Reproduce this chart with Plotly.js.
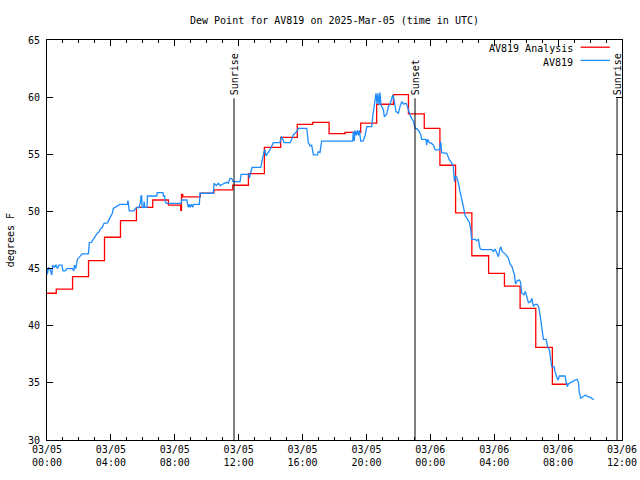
<!DOCTYPE html>
<html>
<head>
<meta charset="utf-8">
<script src="https://cdn.plot.ly/plotly-3.0.1.min.js"></script>
<style>html,body{margin:0;padding:0;background:#fff;}#chart{width:640px;height:480px;}</style>
</head>
<body>
<div id="chart"></div>
<script>
// Hours since 2025-03-05 00:00 UTC
const analysisHours = [0, 0.58, 1.6, 2.6, 3.6, 4.6, 5.6, 6.62, 7.6, 8.37, 8.42, 8.5, 9.6, 10.45, 11.63, 12.61, 13.61, 14.63, 15.67, 16.63, 17.66, 18.66, 19.64, 20.64, 21.69, 22.63, 23.62, 24.6, 25.58, 26.6, 27.65, 28.64, 29.62, 30.6, 31.64, 32.64];
const analysisDewpt = [42.84, 43.2, 44.3, 45.7, 47.74, 49.2, 50.35, 51.0, 50.56, 50.1, 51.5, 51.27, 51.6, 51.88, 52.29, 53.3, 55.6, 56.48, 57.62, 57.8, 56.8, 56.92, 57.73, 59.38, 60.22, 58.53, 57.27, 54.04, 49.88, 46.12, 44.58, 43.47, 41.51, 38.1, 34.88, 34.88];

const obsHours = [0.00,0.02,0.10,0.20,0.30,0.35,0.45,0.56,0.65,0.75,0.94,1.00,1.15,1.25,1.59,1.68,1.72,1.80,1.90,2.00,2.20,2.59,2.65,2.78,2.90,3.03,3.15,3.25,3.36,3.46,3.57,3.78,3.88,4.09,4.15,4.44,4.57,5.03,5.07,5.15,5.45,5.50,5.62,5.76,5.86,5.88,5.93,5.95,6.05,6.08,6.12,6.26,6.29,6.87,6.90,7.26,7.29,7.37,7.40,7.47,8.40,8.43,8.76,8.79,8.85,8.90,8.97,9.05,9.12,9.18,9.54,9.58,10.41,10.46,10.60,10.72,10.85,11.10,11.25,11.35,11.46,11.56,11.65,12.09,12.15,12.64,12.67,12.74,12.84,13.38,13.44,13.50,13.59,13.65,13.71,13.83,13.96,14.17,14.59,14.63,14.70,14.84,15.22,15.32,15.42,15.53,15.63,15.74,16.26,16.30,16.36,16.47,16.57,16.68,16.93,16.98,17.09,17.20,19.14,19.18,19.24,19.28,19.36,19.44,19.50,19.56,19.64,19.78,19.91,20.02,20.33,20.39,20.48,20.54,20.60,20.66,20.72,20.79,20.85,20.91,21.06,21.12,21.27,21.37,21.48,21.65,21.73,21.85,22.00,22.10,22.21,22.33,22.50,22.56,22.68,22.77,22.94,23.04,23.18,23.31,23.40,23.46,23.73,23.77,23.83,23.94,24.08,24.19,24.30,24.57,24.65,24.71,25.03,25.08,25.19,25.33,25.44,25.51,25.57,25.65,25.76,25.86,25.97,26.07,26.17,26.28,26.45,26.53,26.59,26.80,26.90,27.01,27.11,27.20,27.84,27.95,28.05,28.15,28.26,28.37,28.42,28.50,28.60,28.75,28.89,28.99,29.10,29.20,29.27,29.33,29.45,29.57,29.65,29.72,29.86,29.95,30.03,30.14,30.28,30.36,30.45,30.56,30.70,30.79,30.87,30.98,31.08,31.25,31.33,31.45,31.54,31.60,31.75,31.80,31.92,32.00,32.08,32.44,32.50,32.58,32.64,32.80,32.95,33.06,33.20,33.27,33.33,33.42,33.55,33.71,33.85,34.00,34.17,34.25];
const obsDewpt = [45.03,44.5,45.1,44.9,44.44,45.3,45.1,45.3,45.0,45.3,45.3,44.8,44.8,45.0,45.0,44.8,45.3,45.0,45.8,45.99,46.28,46.28,47.27,47.3,47.56,47.85,48.09,48.2,48.52,48.6,48.96,49.0,49.31,49.83,50.27,50.47,50.62,50.62,50.94,50.04,50.04,50.2,50.33,50.33,50.85,51.35,51.35,50.36,50.36,50.86,50.36,50.36,51.35,51.35,51.64,51.64,51.35,51.35,50.86,50.71,50.71,51.0,51.0,50.71,50.36,50.62,50.36,50.62,50.36,50.62,50.62,51.59,51.59,52.46,52.26,52.46,52.26,52.46,52.55,52.46,52.9,52.9,52.6,52.6,53.25,53.25,52.9,53.34,53.86,53.86,54.37,54.65,55.23,55.4,54.85,55.1,55.4,56.02,56.02,56.32,56.55,56.02,56.02,56.3,56.69,56.84,56.98,57.27,57.27,56.84,56.02,55.73,55.8,54.94,54.94,55.23,55.15,56.16,56.16,56.98,56.16,57.1,56.66,57.1,56.66,57.1,56.16,56.16,56.6,57.42,57.42,58.29,59.17,59.9,60.34,59.4,60.34,59.3,60.4,59.31,58.9,58.29,58.5,59.17,59.4,60.19,59.75,58.73,58.6,59.17,59.6,59.4,59.45,59.17,58.6,58.29,57.9,57.3,57.2,56.98,56.7,56.31,56.31,55.8,56.31,56.02,55.95,55.8,55.38,55.38,56.1,55.14,55.08,54.85,54.5,54.27,53.9,52.6,53.1,53.0,52.5,51.73,51.15,50.42,49.69,49.4,49.02,48.4,47.56,47.56,47.45,47.56,46.77,46.65,46.65,46.5,46.7,46.4,46.04,46.77,46.9,46.5,46.4,46.2,45.9,45.4,45.2,44.73,44.45,43.65,43.95,44.0,43.8,42.84,42.7,43.0,42.5,42.02,42.1,42.4,41.7,41.87,41.87,41.6,40.94,39.77,38.81,38.81,38.23,37.9,37.15,36.42,36.42,36.0,35.49,35.25,35.6,35.6,35.05,34.67,34.9,35.0,35.15,35.25,35.3,35.05,34.14,33.65,33.8,33.94,33.8,33.75,33.57,33.57];

const sunLabels = ["Sunrise", "Sunset", "Sunrise"];
const sunHours = [11.71, 23.04, 35.69];
const sunLineTop = 59.9;

const seriesNames = ["AV819 Analysis", "AV819"];
const seriesColors = ["#ff0000", "#1e8cff"];

function h2d(h) {
  const ms = Date.UTC(2025, 2, 5) + Math.round(h * 3600000);
  return new Date(ms).toISOString().slice(0, 19).replace('T', ' ');
}

const FONT = {family: '"DejaVu Sans Mono", "Liberation Mono", monospace', size: 10, color: '#000'};

const traces = [
  {x: analysisHours.map(h2d), y: analysisDewpt, type: 'scatter', mode: 'lines',
   line: {color: seriesColors[0], width: 1.3, shape: 'hv'}, name: seriesNames[0]},
  {x: obsHours.map(h2d), y: obsDewpt, type: 'scatter', mode: 'lines',
   line: {color: seriesColors[1], width: 1.3}, name: seriesNames[1]}
];

const shapes = [];
const annotations = [];
sunHours.forEach((h, i) => {
  shapes.push({type: 'line', xref: 'x', yref: 'y', x0: h2d(h), x1: h2d(h), y0: 30, y1: sunLineTop,
               line: {color: '#000', width: 1}});
  annotations.push({xref: 'x', yref: 'y', x: h2d(h), y: sunLineTop, text: sunLabels[i], textangle: -90,
                    showarrow: false, xanchor: 'center', yanchor: 'bottom', yshift: 1, font: FONT});
});

// gnuplot-style key: text right-aligned, line sample to the right
const keyY = [0.978, 0.945];
seriesNames.forEach((n, i) => {
  annotations.push({xref: 'paper', yref: 'paper', x: 0.919, y: keyY[i], text: n, showarrow: false,
                    xanchor: 'right', yanchor: 'middle', font: FONT});
  shapes.push({type: 'line', xref: 'paper', yref: 'paper', x0: 0.928, x1: 0.979, y0: keyY[i] + 0.004, y1: keyY[i] + 0.004,
               line: {color: seriesColors[i], width: 1.3}});
});

annotations.push({xref: 'paper', yref: 'paper', x: -0.064, y: 0.5, text: 'degrees F', textangle: -90,
                  showarrow: false, xanchor: 'center', yanchor: 'middle', font: FONT});

const layout = {
  width: 640, height: 480,
  margin: {l: 47, r: 18, t: 40, b: 40, pad: 0},
  paper_bgcolor: '#fff', plot_bgcolor: '#fff',
  font: FONT,
  showlegend: false,
  title: {text: 'Dew Point for AV819 on 2025-Mar-05 (time in UTC)', x: 0.5, xref: 'paper', xanchor: 'center',
          y: 0.958, yref: 'container', yanchor: 'middle', font: FONT},
  xaxis: {
    type: 'date', range: [h2d(0), h2d(36)], autorange: false,
    tick0: h2d(0), dtick: 4 * 3600000, tickformat: '%m/%d<br>%H:%M',
    ticks: 'inside', ticklen: 6, tickwidth: 1, tickcolor: '#000',
    minor: {dtick: 3600000, ticks: 'inside', ticklen: 3, tickcolor: '#000', showgrid: false},
    showgrid: false, zeroline: false,
    showline: true, linecolor: '#000', linewidth: 1, mirror: 'allticks',
    tickfont: FONT
  },
  yaxis: {
    range: [30, 65], autorange: false, dtick: 5, tick0: 30,
    ticks: 'inside', ticklen: 6, tickwidth: 1, tickcolor: '#000',
    showgrid: false, zeroline: false,
    showline: true, linecolor: '#000', linewidth: 1, mirror: 'allticks',
    tickfont: FONT, ticklabelstandoff: 4
  },
  shapes: shapes,
  annotations: annotations
};

Plotly.newPlot('chart', traces, layout, {displayModeBar: false, staticPlot: true});
</script>
</body>
</html>
